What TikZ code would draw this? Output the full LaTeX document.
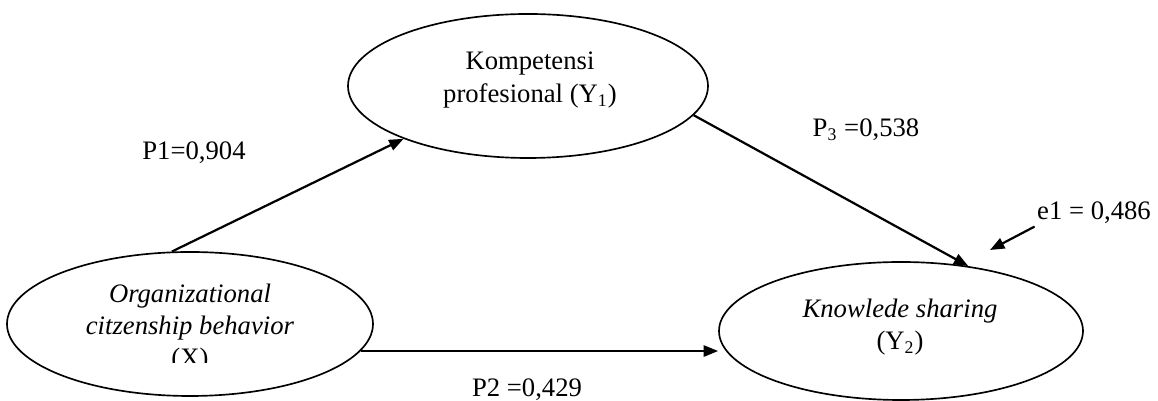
\documentclass[tikz,border=0pt]{standalone}
\usepackage{fontspec}
\setmainfont{Liberation Serif}
\usetikzlibrary{arrows.meta,shapes.geometric}

\begin{document}
\begin{tikzpicture}[x=0.45pt,y=-0.45pt]
  \useasboundingbox (0,0) rectangle (1158,401);
  \begin{scope}[
    every node/.style={
      draw,
      ellipse,
      line width=0.75pt,
      inner sep=0pt,
    },
    ]
    \node[minimum width=164.7pt,minimum height=64.8pt] (X) at (190,324) {};
    \node[minimum width=162pt,minimum height=64.8pt] (Y1) at (528,86) {};
    \node[minimum width=163.8pt,minimum height=62.1pt] (Y2) at (901,331) {};
  \end{scope}
  \begin{scope}[
    every node/.style={
      align=center,
      font=\fontsize{12}{14.5}\selectfont,
      inner sep=1pt,
    },
    ]
    \node (Y1-text) at (530,80) {Kompetensi\\profesional (Y\textsubscript{1})};
    \node (Y2-text) at (900,327) {\textit{Knowlede sharing}\\(Y\textsubscript{2})};
    \begin{scope}
      \clip (0,0) rectangle (1158,363);
      \node (X-text) at (190,328) {\textit{Organizational}\\\textit{citzenship behavior}\\(X)};
    \end{scope}
    \node (p1) at (194,153) {P1=0,904};
    \node (p2) at (527,390) {P2 =0,429};
    \node (p3) at (866,130) {P\textsubscript{3} =0,538};
    \node (e1) at (1094,213) {e1 = 0,486};
  \end{scope}
  \coordinate (e1-tip) at (990,250);
  \begin{scope}[every path/.style={draw,line width=1pt,-{Triangle[length=6.5pt,width=5pt]}}]
    \path (X.104) -- (Y1.203);
    \path (X.-9) -- (X.-9 -| Y2.west);
    \path (Y1.350) -- (Y2.44);
    \path (e1.south west) -- (e1-tip);
  \end{scope}
\end{tikzpicture}
\end{document}
